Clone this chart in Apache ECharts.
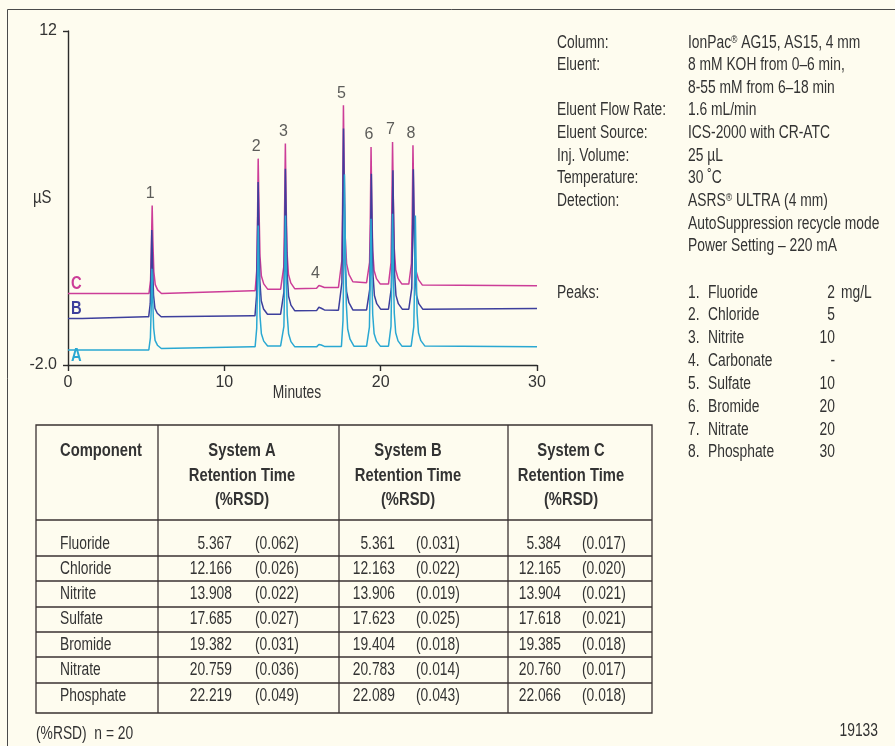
<!DOCTYPE html>
<html>
<head>
<meta charset="utf-8">
<script src="https://cdn.jsdelivr.net/npm/echarts@6/dist/echarts.min.js"></script>
<style>
  html, body { margin: 0; padding: 0; background: #fefcef; }
  #chart { width: 895px; height: 746px; }
</style>
</head>
<body>
<div id="chart"></div>
<script>
// ---------------- DATA ----------------
// Chromatogram traces: [minutes, µS]
const traceA = [
  [0,-1.37],[5.0,-1.37],
  [5.17,-1.37],[5.27,-0.86],[5.32,0.33],[5.367,2.03],[5.42,0.73],[5.48,-0.46],[5.57,-0.97],[5.72,-1.17],[5.97,-1.31],
  [11.8,-1.23],
  [11.97,-1.23],[12.07,-0.47],[12.12,1.31],[12.166,3.85],[12.22,1.85],[12.28,0.07],[12.37,-0.69],[12.52,-1.0],[12.77,-1.2],
  [13.6,-1.2],
  [13.71,-1.2],[13.81,-0.38],[13.86,1.54],[13.908,4.27],[13.96,2.04],[14.02,0.13],[14.11,-0.69],[14.26,-1.02],[14.51,-1.24],
  [15.9,-1.24],[16.05,-1.14],[16.2,-1.16],[16.4,-1.22],[17.3,-1.22],
  [17.49,-1.22],[17.59,-0.14],[17.64,2.39],[17.685,5.99],[17.74,3.12],[17.80,0.59],[17.89,-0.49],[18.04,-0.92],[18.29,-1.21],
  [19.1,-1.21],
  [19.18,-1.21],[19.28,-0.41],[19.33,1.46],[19.382,4.13],[19.43,1.99],[19.49,0.13],[19.58,-0.68],[19.73,-1.0],[19.98,-1.21],
  [20.5,-1.21],
  [20.56,-1.21],[20.66,-0.38],[20.71,1.57],[20.759,4.34],[20.81,2.12],[20.87,0.18],[20.96,-0.65],[21.11,-0.99],[21.36,-1.21],
  [21.95,-1.21],
  [22.02,-1.21],[22.12,-0.39],[22.17,1.53],[22.219,4.27],[22.27,2.09],[22.33,0.17],[22.42,-0.65],[22.57,-0.98],[22.82,-1.2],
  [30,-1.24]
];
const traceB = [
  [0,-0.05],[0.9,-0.05],[1.0,0.02],[5.0,0.02],
  [5.16,0.02],[5.26,0.57],[5.31,1.84],[5.361,3.66],[5.41,2.20],[5.47,0.93],[5.56,0.38],[5.71,0.17],[5.96,0.02],
  [11.8,0.06],
  [11.96,0.06],[12.06,0.90],[12.11,2.87],[12.163,5.67],[12.21,3.50],[12.27,1.53],[12.36,0.69],[12.51,0.35],[12.76,0.13],
  [13.6,0.13],
  [13.71,0.13],[13.81,1.05],[13.86,3.18],[13.906,6.23],[13.96,3.93],[14.02,1.80],[14.11,0.88],[14.26,0.51],[14.51,0.27],
  [15.9,0.28],[16.05,0.42],[16.2,0.38],[16.4,0.31],[17.3,0.30],
  [17.42,0.30],[17.52,1.44],[17.57,4.11],[17.623,7.91],[17.67,4.88],[17.73,2.21],[17.82,1.07],[17.97,0.61],[18.22,0.31],
  [19.1,0.31],
  [19.20,0.31],[19.30,1.17],[19.35,3.17],[19.404,6.02],[19.45,3.77],[19.51,1.77],[19.60,0.91],[19.75,0.57],[20.0,0.34],
  [20.5,0.34],
  [20.58,0.34],[20.68,1.21],[20.73,3.25],[20.783,6.16],[20.83,3.83],[20.89,1.80],[20.98,0.92],[21.13,0.57],[21.38,0.34],
  [21.8,0.34],
  [21.89,0.34],[21.99,1.22],[22.04,3.27],[22.089,6.20],[22.14,3.86],[22.20,1.81],[22.29,0.93],[22.44,0.57],[22.69,0.34],
  [30,0.37]
];
const traceC = [
  [0,1.0],[5.0,1.0],
  [5.18,1.0],[5.28,1.55],[5.33,2.85],[5.384,4.69],[5.43,3.21],[5.49,1.92],[5.58,1.37],[5.73,1.15],[5.98,1.0],
  [11.8,1.11],
  [11.97,1.11],[12.07,1.94],[12.12,3.88],[12.165,6.65],[12.22,4.50],[12.28,2.57],[12.37,1.73],[12.52,1.40],[12.77,1.18],
  [13.6,1.18],
  [13.70,1.18],[13.80,2.10],[13.85,4.23],[13.904,7.28],[13.95,4.86],[14.01,2.73],[14.10,1.81],[14.25,1.44],[14.50,1.2],
  [15.9,1.22],[16.05,1.33],[16.2,1.30],[16.4,1.25],[17.3,1.25],
  [17.42,1.25],[17.52,2.40],[17.57,5.07],[17.618,8.89],[17.67,6.07],[17.73,3.40],[17.82,2.25],[17.97,1.80],[18.22,1.49],
  [19.1,1.45],
  [19.19,1.45],[19.29,2.30],[19.34,4.30],[19.385,7.14],[19.43,4.80],[19.49,2.81],[19.58,1.96],[19.73,1.62],[19.98,1.39],
  [20.5,1.39],
  [20.56,1.39],[20.66,2.28],[20.71,4.37],[20.760,7.35],[20.81,4.97],[20.87,2.88],[20.96,1.99],[21.11,1.63],[21.36,1.39],
  [21.8,1.39],
  [21.87,1.39],[21.97,2.26],[22.02,4.30],[22.066,7.21],[22.12,4.84],[22.18,2.81],[22.27,1.93],[22.42,1.58],[22.67,1.35],
  [30,1.32]
];
const traceNames = ['C', 'B', 'A'];

// Peak labels (anchored on trace C peak tops)
const peakNums = ['1','2','3','4','5','6','7','8'];
const peakLabelTimes = [5.384, 12.165, 13.904, 15.95, 17.618, 19.385, 20.760, 22.066];
const peakLabelHeights = [4.69, 6.65, 7.28, 1.33, 8.89, 7.14, 7.35, 7.21];

// Axis texts
const yTickLabels = { '12': '12', '-2': '-2.0' };
const xAxisTitle = 'Minutes';
const yAxisTitle = 'µS';

// Conditions text
const condLabels = ['Column:', 'Eluent:', '', 'Eluent Flow Rate:', 'Eluent Source:', 'Inj. Volume:', 'Temperature:', 'Detection:', '', ''];
const condValues = ['IonPac{sup|®} AG15, AS15, 4 mm', '8 mM KOH from 0–6 min,', '8-55 mM from 6–18 min', '1.6 mL/min',
  'ICS-2000 with CR-ATC', '25 µL', '30 ˚C', 'ASRS{sup|®} ULTRA (4 mm)', 'AutoSuppression recycle mode', 'Power Setting – 220 mA'];

// Peaks list
const peakNames = ['Fluoride','Chloride','Nitrite','Carbonate','Sulfate','Bromide','Nitrate','Phosphate'];
const peakAmounts = ['2','5','10','-','10','20','20','30'];
const peakUnit = 'mg/L';

// Table
const tableComponents = ['Fluoride','Chloride','Nitrite','Sulfate','Bromide','Nitrate','Phosphate'];
const sysA_rt  = ['5.367','12.166','13.908','17.685','19.382','20.759','22.219'];
const sysA_rsd = ['(0.062)','(0.026)','(0.022)','(0.027)','(0.031)','(0.036)','(0.049)'];
const sysB_rt  = ['5.361','12.163','13.906','17.623','19.404','20.783','22.089'];
const sysB_rsd = ['(0.031)','(0.022)','(0.019)','(0.025)','(0.018)','(0.014)','(0.043)'];
const sysC_rt  = ['5.384','12.165','13.904','17.618','19.385','20.760','22.066'];
const sysC_rsd = ['(0.017)','(0.020)','(0.021)','(0.021)','(0.018)','(0.017)','(0.018)'];
const tableHeaders = [['Component'], ['System A','Retention Time','(%RSD)'], ['System B','Retention Time','(%RSD)'], ['System C','Retention Time','(%RSD)']];
const footNote = '(%RSD)  n = 20';
const figId = '19133';

// ---------------- STYLE / LAYOUT ----------------
const FONT = '"Liberation Sans", Arial, sans-serif';
const TXT = '#333333';
const LINE = '#3a3232';
const colors = { C: '#cc3d98', B: '#3d3f9c', A: '#2aa8d2' };
const traces = { A: traceA, B: traceB, C: traceC };

const chart = echarts.init(document.getElementById('chart'), null, { renderer: 'canvas' });

const graphic = [];
function txt(x, y, text, opts) {
  opts = opts || {};
  const el = {
    type: 'text', x: x, y: y, silent: true,
    scaleX: opts.sx || (opts.bold ? 0.82 : 0.79),
    style: {
      text: text, fill: opts.fill || TXT,
      font: (opts.bold ? 'bold ' : '') + (opts.size || 17.5) + 'px ' + FONT,
      textAlign: opts.align || 'left', textVerticalAlign: 'middle'
    }
  };
  if (opts.rich) el.style.rich = opts.rich;
  graphic.push(el);
}
function line(x1, y1, x2, y2, w) {
  graphic.push({ type: 'line', silent: true, shape: { x1, y1, x2, y2 }, style: { stroke: LINE, lineWidth: w || 1.3 } });
}

// outer frame
graphic.push({ type: 'rect', silent: true, shape: { x: 7.5, y: 9.5, width: 1000, height: 1000 }, style: { fill: null, stroke: '#4a4a4a', lineWidth: 1 } });

// axis titles
txt(33, 198, yAxisTitle, { sx: 0.85 });
txt(297, 393, xAxisTitle, { align: 'center' });

// trace letters
txt(71, 284, 'C', { bold: true, size: 18, fill: colors.C });
txt(71, 309, 'B', { bold: true, size: 18, fill: colors.B });
txt(71, 356, 'A', { bold: true, size: 18, fill: colors.A });

// conditions
const supRich = { sup: { fontSize: 11, verticalAlign: 'top', padding: [0, 0, 6, 0], fill: TXT, fontFamily: FONT } };
const condY = [43, 65, 88, 110, 133, 156, 178, 201, 224, 246];
condLabels.forEach((l, i) => { if (l) txt(557, condY[i], l); });
condValues.forEach((v, i) => txt(688, condY[i], v, { rich: supRich }));

// peaks list
const plY = [293, 315, 338, 361, 384, 407, 430, 452];
txt(557, 293, 'Peaks:');
peakNames.forEach((n, i) => {
  txt(688, plY[i], (i + 1) + '.');
  txt(708, plY[i], n);
  txt(835, plY[i], peakAmounts[i], { align: 'right' });
});
txt(841, 293, peakUnit);

// table
const T = { l: 36, t: 425, r: 652, b: 713, hb: 520, cols: [158, 339, 508], rows: [556, 581, 607, 632, 657, 683] };
graphic.push({ type: 'rect', silent: true, shape: { x: T.l, y: T.t, width: T.r - T.l, height: T.b - T.t }, style: { fill: null, stroke: LINE, lineWidth: 1.3 } });
T.cols.forEach(x => line(x, T.t, x, T.b));
line(T.l, T.hb, T.r, T.hb);
T.rows.forEach(y => line(T.l, y, T.r, y));
const hdrX = [60, 242, 408, 571];
const hdrY = [451, 476, 500];
tableHeaders.forEach((h, ci) => h.forEach((s, ri) => txt(hdrX[ci], hdrY[ri], s, { bold: true, size: 18, align: ci === 0 ? 'left' : 'center' })));
const rowY = [544, 569, 594, 619, 645, 670, 696];
tableComponents.forEach((c, i) => {
  txt(60, rowY[i], c);
  txt(232, rowY[i], sysA_rt[i], { align: 'right' });
  txt(255, rowY[i], sysA_rsd[i]);
  txt(395, rowY[i], sysB_rt[i], { align: 'right' });
  txt(416, rowY[i], sysB_rsd[i]);
  txt(561, rowY[i], sysC_rt[i], { align: 'right' });
  txt(582, rowY[i], sysC_rsd[i]);
});
txt(36, 734, footNote);
txt(878, 731, figId, { align: 'right' });

const series = traceNames.map(n => ({
  name: n, type: 'line', data: traces[n], showSymbol: false, symbol: 'none',
  lineStyle: { color: colors[n], width: 1.5 }, itemStyle: { color: colors[n] },
  animation: false, silent: true, z: 2
}));
series.push({
  name: 'peaks', type: 'scatter', symbolSize: 0, silent: true, animation: false,
  data: peakNums.map((n, i) => [peakLabelTimes[i], peakLabelHeights[i], n]),
  label: { show: true, position: 'top', distance: 4, offset: [-2, 0], formatter: p => p.data[2],
           fontSize: 16, fontFamily: FONT, color: TXT }
});

chart.setOption({
  backgroundColor: '#fefcef',
  animation: false,
  grid: { left: 68, top: 31, width: 469, height: 334, containLabel: false },
  xAxis: {
    type: 'value', min: 0, max: 30, interval: 10,
    axisLine: { show: true, onZero: false, lineStyle: { color: '#2b2b2b', width: 1.4 } },
    axisTick: { show: true, length: 6, lineStyle: { color: '#2b2b2b', width: 1.4 } },
    axisLabel: { fontSize: 16, fontFamily: FONT, color: TXT, margin: 10 },
    splitLine: { show: false }
  },
  yAxis: {
    type: 'value', min: -2, max: 12, interval: 14,
    axisLine: { show: true, onZero: false, lineStyle: { color: '#2b2b2b', width: 1.4 } },
    axisTick: { show: true, length: 5, lineStyle: { color: '#2b2b2b', width: 1.4 } },
    axisLabel: { fontSize: 16, fontFamily: FONT, color: TXT, margin: 11, formatter: v => yTickLabels[String(v)] || '' },
    splitLine: { show: false }
  },
  series: series,
  graphic: graphic
});
</script>
</body>
</html>
